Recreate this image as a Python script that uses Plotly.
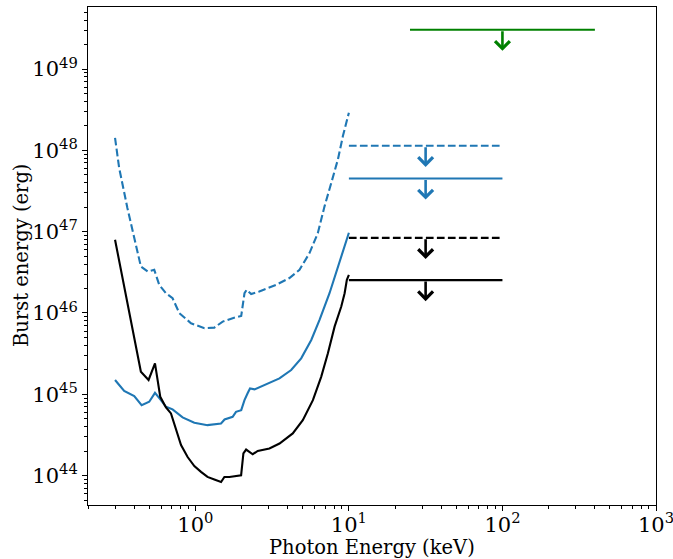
import numpy as np
import plotly.graph_objects as go

# ---------------- data ----------------
black_solid_E = [0.300, 0.442, 0.496, 0.546, 0.591, 0.644, 0.694, 0.767, 0.807, 0.891, 0.985, 1.089,
                 1.20, 1.330, 1.471, 1.546, 1.667, 1.987, 2.056, 2.142, 2.365, 2.549, 3.038, 3.533,
                 4.31, 5.01, 5.83, 6.60, 7.30, 8.07, 8.92, 9.38, 9.70, 10.0]
black_solid_B = [7.96e46, 1.89e45, 1.50e45, 2.40e45, 9.31e44, 6.89e44, 5.81e44, 3.30e44, 2.37e44, 1.69e44,
                 1.31e44, 1.11e44, 9.62e43, 8.93e43, 8.34e43, 9.62e43, 9.62e43, 1.01e44, 1.87e44, 2.09e44,
                 1.83e44, 2.01e44, 2.15e44, 2.48e44, 3.30e44, 4.81e44, 8.47e44, 1.64e45, 3.19e45, 6.79e45,
                 1.20e46, 1.75e46, 2.56e46, 2.95e46]

blue_solid_E = [0.300, 0.344, 0.400, 0.447, 0.501, 0.546, 0.597, 0.644, 0.711, 0.826, 0.985, 1.20,
                1.47, 1.55, 1.75, 1.84, 1.99, 2.09, 2.19, 2.27, 2.43, 2.89, 3.53, 4.21, 4.89, 5.69,
                6.44, 7.48, 8.48, 9.38, 10.0]
blue_solid_B = [1.50e45, 1.10e45, 9.51e44, 7.36e44, 8.09e44, 1.04e45, 8.47e44, 7.02e44, 6.52e44, 5.19e44,
                4.46e44, 4.17e44, 4.38e44, 4.90e44, 5.28e44, 6.08e44, 6.38e44, 8.47e44, 1.03e45, 1.18e45,
                1.15e45, 1.34e45, 1.57e45, 1.99e45, 2.77e45, 4.66e45, 8.22e45, 1.75e46, 3.73e46, 6.92e46,
                9.7e46]

blue_dashed_E = [0.300, 0.319, 0.361, 0.400, 0.442, 0.489, 0.540, 0.582, 0.644, 0.711, 0.787, 0.937,
                 1.146, 1.33, 1.507, 1.75, 1.99, 2.09, 2.16, 2.31, 2.61, 3.36, 4.10, 4.77, 5.54, 6.28,
                 6.94, 7.68, 8.48, 9.14, 10.0]
blue_dashed_B = [1.43e48, 6.10e47, 1.96e47, 8.36e46, 3.73e46, 3.24e46, 3.40e46, 2.22e46, 1.75e46, 1.52e46,
                 9.95e45, 7.48e45, 6.50e45, 6.61e45, 7.83e45, 8.63e45, 9.20e45, 1.75e46, 1.93e46, 1.71e46,
                 1.84e46, 2.22e46, 2.69e46, 3.40e46, 5.46e46, 9.64e46, 2.05e47, 3.98e47, 7.73e47, 1.50e48,
                 2.91e48]

# upper limits
ul_names = ["blue_dashed", "blue_solid", "black_dashed", "black_solid", "green"]
ul_E_low = [10, 10, 10, 10, 25]
ul_E_high = [100, 100, 100, 100, 400]
ul_E_arrow = [31.6, 31.6, 31.6, 31.6, 100]
ul_value = [1.14e48, 4.52e47, 8.4e46, 2.54e46, 3.05e49]
arrow_factor = 0.55

x_tickvals = [1, 10, 100, 1000]
x_ticktext = ["10<sup>0</sup>", "10<sup>1</sup>", "10<sup>2</sup>", "10<sup>3</sup>"]
y_tickvals = [1e44, 1e45, 1e46, 1e47, 1e48, 1e49]
y_ticktext = ["10<sup>44</sup>", "10<sup>45</sup>", "10<sup>46</sup>", "10<sup>47</sup>",
              "10<sup>48</sup>", "10<sup>49</sup>"]
x_label = "Photon Energy (keV)"
y_label = "Burst energy (erg)"

# ---------------- styles ----------------
BLUE = "#1f77b4"
GREEN = "#008000"
LW = 2.1
DASH = "7.7px,3.3px"
ul_color = [BLUE, BLUE, "black", "black", GREEN]
ul_dash = [DASH, "solid", DASH, "solid", "solid"]

fig = go.Figure()
fig.add_trace(go.Scatter(x=blue_dashed_E, y=blue_dashed_B, mode="lines",
                         line=dict(color=BLUE, width=LW, dash=DASH)))
fig.add_trace(go.Scatter(x=blue_solid_E, y=blue_solid_B, mode="lines",
                         line=dict(color=BLUE, width=LW)))
fig.add_trace(go.Scatter(x=black_solid_E, y=black_solid_B, mode="lines",
                         line=dict(color="black", width=LW)))

for i in range(len(ul_names)):
    fig.add_trace(go.Scatter(x=[ul_E_low[i], ul_E_high[i]], y=[ul_value[i], ul_value[i]],
                             mode="lines", line=dict(color=ul_color[i], width=LW, dash=ul_dash[i])))
    fig.add_annotation(x=np.log10(ul_E_arrow[i]), y=np.log10(ul_value[i] * arrow_factor),
                       ax=np.log10(ul_E_arrow[i]), ay=np.log10(ul_value[i]),
                       xref="x", yref="y", axref="x", ayref="y",
                       text="", showarrow=True, arrowhead=4, arrowsize=1.1,
                       arrowwidth=2.6, arrowcolor=ul_color[i], standoff=0)

minor_x = [m * 10.0 ** k for k in range(-1, 3) for m in range(2, 10)]
minor_y = [m * 10.0 ** k for k in range(43, 50) for m in range(2, 10)]

FONT = "DejaVu Serif"
L, R, T, B = 88, 17, 7, 54
W, H = 673, 559
PW, PH = W - L - R, H - T - B

fig.update_layout(
    width=W, height=H,
    margin=dict(l=L, r=R, t=T, b=B, autoexpand=False),
    paper_bgcolor="white", plot_bgcolor="white",
    showlegend=False,
    font=dict(family=FONT, size=21, color="black"),
)
common = dict(type="log", tickmode="array",
              ticks="outside", ticklen=5, tickwidth=1.1, tickcolor="black",
              showline=True, linecolor="black", linewidth=1.1, mirror=True,
              showgrid=False, zeroline=False, automargin=False,
              ticklabeloverflow="allow",
              tickfont=dict(family=FONT, size=21, color="black"))
fig.update_xaxes(range=[np.log10(0.2), 3.0], tickvals=x_tickvals, ticktext=x_ticktext,
                 ticklabelstandoff=-4,
                 minor=dict(tickmode="array", tickvals=minor_x, ticks="outside",
                            ticklen=3, tickwidth=0.8, tickcolor="black", showgrid=False),
                 **common)
fig.update_yaxes(range=[43.638, 49.764], tickvals=y_tickvals, ticktext=y_ticktext,
                 minor=dict(tickmode="array", tickvals=minor_y, ticks="outside",
                            ticklen=3, tickwidth=0.8, tickcolor="black", showgrid=False),
                 **common)

# axis titles placed as annotations for exact placement
fig.add_annotation(text=x_label, xref="paper", yref="paper",
                   x=0.5, y=-(547 - (T + PH)) / PH, xanchor="center", yanchor="middle",
                   showarrow=False, font=dict(family=FONT, size=19.5, color="black"))
fig.add_annotation(text=y_label, xref="paper", yref="paper",
                   x=(21 - L) / PW, y=0.5, xanchor="center", yanchor="middle", textangle=-90,
                   showarrow=False, font=dict(family=FONT, size=19.5, color="black"))

fig.write_html("out.html")
